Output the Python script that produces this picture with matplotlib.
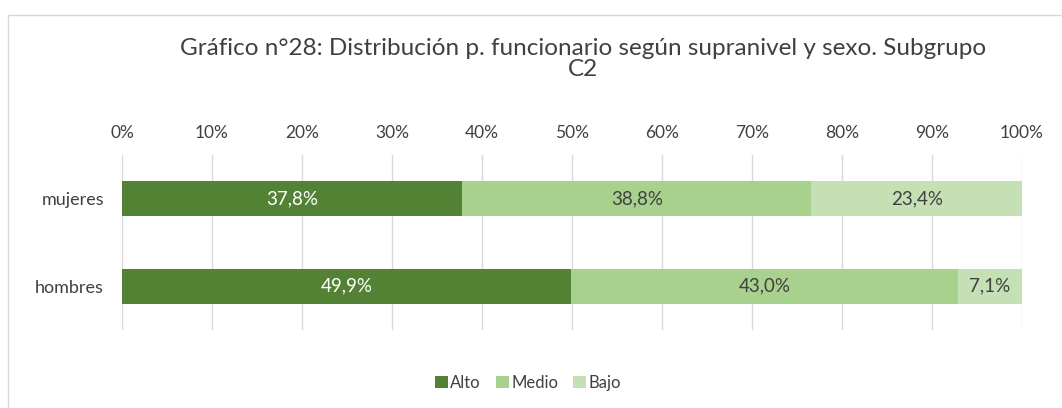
import matplotlib.pyplot as plt
from matplotlib.patches import Rectangle

plt.rcParams['font.family'] = ['Lato', 'DejaVu Sans']

groups = ['mujeres', 'hombres']
series = ['Alto', 'Medio', 'Bajo']
alto = [37.8, 49.9]
medio = [38.8, 43.0]
bajo = [23.4, 7.1]
colors = ['#548235', '#A9D18E', '#C5E0B4']
text_colors = ['white', '#404040', '#404040']

fig = plt.figure(figsize=(10.62, 4.08), dpi=100)
ax = fig.add_axes([0.1149, 0.191, 0.8474, 0.429])

# chart frame
fig.patches.append(Rectangle((0.008, -0.01), 1.0, 0.973, transform=fig.transFigure,
                             fill=False, edgecolor='#D9D9D9', linewidth=1.0))

ypos = [0, 1]
left = [0, 0]
handles = []
for vals, name, c, tc in zip([alto, medio, bajo], series, colors, text_colors):
    bars = ax.barh(ypos, vals, left=left, height=0.4, color=c, label=name, zorder=3)
    handles.append(bars)
    for y, l, v in zip(ypos, left, vals):
        ax.text(l + v / 2, y, ('%.1f%%' % v).replace('.', ','), ha='center', va='center',
                color=tc, fontsize=13.5, zorder=4)
    left = [a + b for a, b in zip(left, vals)]

ax.set_xlim(0, 100)
ax.set_ylim(1.5, -0.5)
ax.set_xticks(range(0, 101, 10))
ax.set_xticklabels(['%d%%' % t for t in range(0, 101, 10)])
ax.xaxis.tick_top()
ax.set_yticks(ypos)
ax.set_yticklabels(groups)
ax.tick_params(axis='x', length=0, labelsize=12.5, colors='#404040', pad=10)
ax.tick_params(axis='y', length=0, labelsize=13, colors='#404040', pad=13)
ax.grid(axis='x', color='#D9D9D9', linewidth=1, zorder=0)
for s in ax.spines.values():
    s.set_visible(False)

fig.text(0.549, 0.855, 'Gráfico n°28: Distribución p. funcionario según supranivel y sexo. Subgrupo\nC2',
         ha='center', va='center', fontsize=17.5, color='#404040', linespacing=1.0)

fig.legend(handles, series, loc='center', bbox_to_anchor=(0.497, 0.062), ncol=3, frameon=False,
           fontsize=12, handlelength=0.8, handleheight=0.8, handletextpad=0.12,
           columnspacing=0.9, labelcolor='#404040')

fig.savefig('out.png', dpi=100)
